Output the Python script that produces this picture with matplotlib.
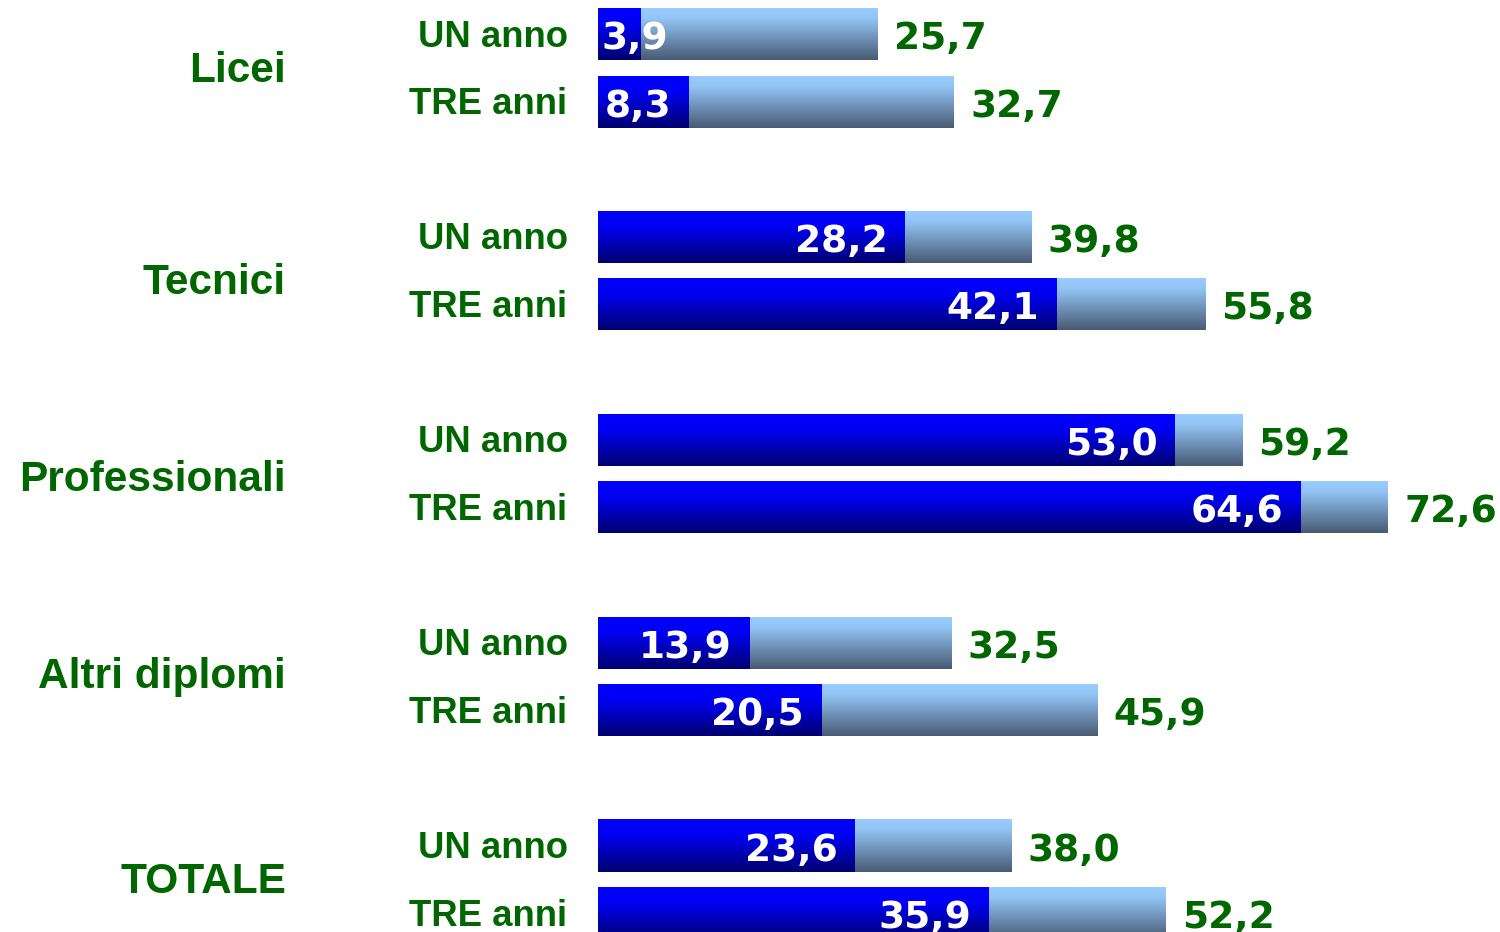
import numpy as np
import matplotlib
matplotlib.use("Agg")
import matplotlib.pyplot as plt
from matplotlib.colors import LinearSegmentedColormap

groups = ["Licei", "Tecnici", "Professionali", "Altri diplomi", "TOTALE"]
sub_labels = ["UN anno", "TRE anni"]
inner_vals = [[3.9, 8.3], [28.2, 42.1], [53.0, 64.6], [13.9, 20.5], [23.6, 35.9]]
outer_vals = [[25.7, 32.7], [39.8, 55.8], [59.2, 72.6], [32.5, 45.9], [38.0, 52.2]]

def fmt(v):
    return f"{v:.1f}".replace(".", ",")

W, H = 1500, 932
fig = plt.figure(figsize=(W / 100, H / 100), dpi=100)
ax = fig.add_axes([0, 0, 1, 1])
ax.axis("off")

pxu = 10.88           # pixels per value unit
x0 = 598              # pixel of value 0
gpx = 202.9           # pixels per group
top0 = 34

sub_off = 67.5 / gpx
bh = 52 / gpx
green = "#006600"
# small vertical nudges (pixels) of group titles
title_nudge = [3, 12, 6, 1, 3]

dark_cmap = LinearSegmentedColormap.from_list(
    "dk", [(0, "#0000ff"), (0.3, "#0000f4"), (1, "#000070")])
light_cmap = LinearSegmentedColormap.from_list(
    "lt", [(0, "#99ccff"), (0.2, "#92c4f4"), (1, "#485a74")])
grad = np.linspace(0, 1, 256).reshape(-1, 1)

def gbar(x1, x2, yc, cmap):
    ax.imshow(grad, cmap=cmap, extent=(x1, x2, yc + bh / 2, yc - bh / 2),
              aspect="auto", interpolation="bilinear", zorder=2)

for g, name in enumerate(groups):
    for s in range(2):
        yc = g + s * sub_off
        iv = inner_vals[g][s]
        ov = outer_vals[g][s]
        gbar(0, ov, yc, light_cmap)
        gbar(0, iv, yc, dark_cmap)
        ax.text(-2.8, yc + 3 / gpx, sub_labels[s], ha="right", va="center",
                fontsize=26.3, fontweight="bold", color=green,
                family="Liberation Sans", zorder=3)
        ax.text(ov + 1.5, yc + 5 / gpx, fmt(ov), ha="left", va="center",
                fontsize=27, fontweight="bold", color=green,
                family="DejaVu Sans", zorder=3)
        if iv < 6:
            ax.text(0.3, yc + 5 / gpx, fmt(iv), ha="left", va="center",
                    fontsize=27, fontweight="bold", color="white",
                    family="DejaVu Sans", zorder=3)
        else:
            ax.text(iv - 1.6, yc + 5 / gpx, fmt(iv), ha="right", va="center",
                    fontsize=27, fontweight="bold", color="white",
                    family="DejaVu Sans", zorder=3)
    ax.text(-(x0 - 286) / pxu, g + sub_off / 2 + title_nudge[g] / gpx,
            name, ha="right", va="center", fontsize=30.5, fontweight="bold",
            color=green, family="Liberation Sans", zorder=3)

ax.set_xlim(-x0 / pxu, (W - x0) / pxu)
ax.set_ylim((H - top0) / gpx, -top0 / gpx)
fig.savefig("out.png", dpi=100)
